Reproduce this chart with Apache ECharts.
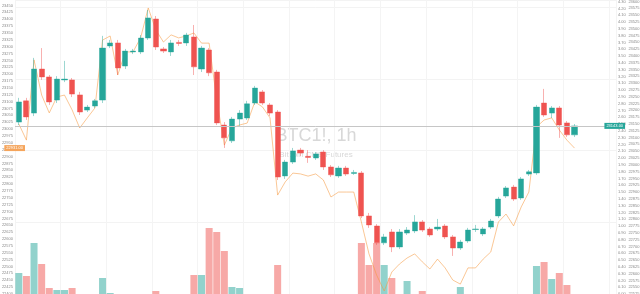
<!DOCTYPE html>
<html><head><meta charset="utf-8">
<script src="https://cdn.jsdelivr.net/npm/echarts@6/dist/echarts.min.js"></script>
<style>html,body{margin:0;padding:0;background:#fff}#c{width:640px;height:294px}</style>
</head><body><div id="c"></div>
<script>
const categories = ['06 00','06 01','06 02','06 03','06 04','06 05','06 06','06 07','06 08','06 09','06 10','06 11','06 12','06 13','06 14','06 15','06 16','06 17','06 18','06 19','06 20','06 21','06 22','06 23',
'07 00','07 01','07 02','07 03','07 04','07 05','07 06','07 07','07 08','07 09','07 10','07 11','07 12','07 13','07 14','07 15','07 16','07 17','07 18','07 19','07 20','07 21','07 22','07 23',
'08 00','08 01','08 02','08 03','08 04','08 05','08 06','08 07','08 08','08 09','08 10','08 11','08 12','08 13','08 14','08 15','08 16','08 17','08 18','08 19','08 20','08 21','08 22','08 23',
'09 00','09 01','09 02','09 03','09 04','09 05','09 06'];

const opens = [23157,23235,23190,23352,23323,23238,23312,23312,23257,23201,
23216,23238,23437,23448,23363,23415,23415,23466,23536,23426,
23415,23450,23448,23470,23352,23422,23341,23146,23088,23168,
23172,23227,23268,23220,23194,22959,23010,23054,23031,23025,
23047,22992,22959,22988,22968,22970,22812,22775,22713,22753,
22698,22749,22757,22790,22764,22764,22775,22735,22694,22720,
22762,22746,22771,22812,22885,22918,22878,22966,22970,23227,
23190,23209,23154,23110];
const closes = [23231,23176,23352,23323,23231,23315,23315,23260,23194,23212,
23235,23429,23448,23356,23418,23418,23466,23540,23433,23418,
23448,23446,23477,23360,23429,23338,23154,23099,23168,23190,
23224,23282,23227,23190,22955,23010,23051,23043,23027,23040,
22992,22963,22988,22966,22972,22812,22779,22713,22735,22698,
22753,22760,22790,22760,22742,22771,22735,22694,22716,22760,
22764,22764,22793,22874,22915,22874,22948,22974,23212,23183,
23209,23146,23110,23143];
const lows = [23146,23165,23179,23312,23220,23227,23304,23249,23183,23194,
23209,23227,23429,23330,23352,23407,23407,23459,23422,23411,
23400,23437,23437,23330,23341,23326,23146,23062,23080,23143,
23165,23220,23220,23179,22944,22948,23003,23032,23007,23018,
22981,22955,22952,22959,22963,22804,22768,22705,22705,22679,
22690,22742,22749,22753,22735,22757,22727,22665,22687,22713,
22753,22738,22764,22804,22878,22867,22871,22959,22963,23176,
23172,23099,23102,23102];
const highs = [23246,23246,23393,23429,23330,23326,23382,23319,23268,23220,
23242,23474,23459,23459,23426,23426,23477,23569,23547,23433,
23459,23459,23485,23514,23437,23429,23349,23157,23176,23201,
23235,23290,23275,23227,23201,23018,23062,23062,23054,23047,
23054,22999,22996,22996,22981,22977,22823,22782,22746,22764,
22764,22771,22815,22797,22771,22801,22782,22742,22724,22768,
22779,22771,22801,22882,22922,22926,22955,22981,23220,23279,
23216,23216,23161,23150];
const spot = [23019,22960,23252,23124,23059,23117,23124,23070,23004,23041,
23077,23324,23339,23197,23281,23281,23332,23441,23361,23317,
23343,23332,23339,23350,23313,23313,23106,22942,23004,23015,
23022,23099,23081,23041,22760,22808,22840,22837,22829,22837,
22815,22753,22771,22771,22771,22662,22546,22469,22411,22480,
22509,22531,22546,22517,22491,22527,22495,22451,22436,22495,
22495,22527,22553,22662,22691,22648,22717,22771,23008,23033,
23041,22997,22960,22931];
const volumes = [155,140,305,200,80,70,70,80,40,35,
30,130,55,30,30,25,40,45,65,40,
35,30,45,145,145,380,360,265,85,80,
40,45,35,40,195,45,40,30,25,30,
45,35,30,25,30,305,195,305,195,130,
45,115,40,65,35,30,45,40,85,45,
30,35,40,45,40,35,45,40,190,210,
125,155,95,40];
const symbolText = 'BTC1!, 1h';
const descText = 'Bitcoin CME Futures';

const UP = '#26a69a', DOWN = '#ef5350';
const candleData = opens.map((o, i) => [o, closes[i], lows[i], highs[i]]);
const volData = volumes.map((v, i) => ({
  value: v,
  itemStyle: { color: closes[i] >= opens[i] ? 'rgba(38,166,154,0.5)' : 'rgba(239,83,80,0.5)' }
}));
const lastClose = closes[closes.length - 1];
const lastSpot = spot[spot.length - 1];
const FONT = 'Arial, "Liberation Sans", sans-serif';
const lbl = { fontSize: 4, color: '#8a8a8a', fontFamily: FONT };

const chart = echarts.init(document.getElementById('c'), null, { renderer: 'canvas' });
chart.setOption({
  animation: false,
  backgroundColor: '#ffffff',
  graphic: {
    elements: [
      { type: 'text', x: 316, y: 136, z: 0, silent: true,
        style: { text: symbolText, font: '18px ' + FONT, fill: '#d8d8d8', align: 'center', verticalAlign: 'middle', textAlign: 'center', textVerticalAlign: 'middle' } },
      { type: 'text', x: 316, y: 155, z: 0, silent: true,
        style: { text: descText, font: '8px ' + FONT, fill: '#d8d8d8', align: 'center', verticalAlign: 'middle', textAlign: 'center', textVerticalAlign: 'middle' } }
    ]
  },
  grid: { left: 15, right: 23.6, top: 0, bottom: 0, outerBoundsMode: 'none', containLabel: false },
  xAxis: {
    type: 'category', data: categories, boundaryGap: true,
    axisLine: { show: false }, axisTick: { show: false }, axisLabel: { show: false },
    splitLine: { show: true, interval: 5, lineStyle: { color: '#f4f4f4', width: 1 } }
  },
  yAxis: [
    { type: 'value', position: 'right', min: 22525, max: 23605.8, interval: 25,
      axisLine: { show: false }, axisTick: { show: false }, splitLine: { show: false },
      axisLabel: Object.assign({ margin: 12, showMaxLabel: false, formatter: v => String(Math.round(v)) }, lbl) },
    { type: 'value', position: 'left', min: 22400, max: 23469.9, interval: 25,
      axisLine: { show: false }, axisTick: { show: false }, splitLine: { show: false },
      axisLabel: Object.assign({ margin: 2, showMaxLabel: false, formatter: v => String(Math.round(v)) }, lbl) },
    { type: 'value', min: 50, max: 1520, show: false },
    { type: 'value', position: 'right', min: 0, max: 4.3235, interval: 0.1,
      axisLine: { show: false }, axisTick: { show: false }, splitLine: { show: false },
      axisLabel: Object.assign({ margin: 1.5, showMaxLabel: false, formatter: v => v.toFixed(2) }, lbl) },
    { type: 'value', position: 'right', min: 0, max: 294, interval: 71.75,
      axisLine: { show: false }, axisTick: { show: false }, axisLabel: { show: false },
      splitLine: { show: true, lineStyle: { color: '#f3f3f3', width: 1 } } }
  ],
  series: [
    { type: 'bar', name: 'Volume', data: volData, yAxisIndex: 2, barWidth: '92%', z: 1, silent: true },
    { type: 'line', name: 'Spot', data: spot, yAxisIndex: 1, showSymbol: false, z: 2, silent: true,
      lineStyle: { color: 'rgba(245,150,60,0.6)', width: 0.9 },
      markLine: { silent: true, symbol: ['none', 'none'], data: [{ yAxis: lastSpot }],
        lineStyle: { color: 'rgba(255,255,255,0)', width: 0 },
        label: { show: true, opacity: 1, position: 'start', distance: -10, formatter: () => lastSpot.toFixed(2),
          backgroundColor: '#f5a55c', color: '#fff', fontSize: 4, fontFamily: FONT, padding: [1, 2] } } },
    { type: 'candlestick', name: 'BTC1!', data: candleData, yAxisIndex: 0, barWidth: '74%', z: 3, silent: true,
      itemStyle: { color: UP, color0: DOWN, borderColor: 'rgba(38,166,154,0.45)', borderColor0: 'rgba(239,83,80,0.45)', borderWidth: 1 },
      markLine: { silent: true, symbol: ['none', 'none'], data: [{ yAxis: lastClose }],
        lineStyle: { color: '#c6c6c6', width: 1, type: 'solid' },
        label: { show: true, position: 'end', distance: -12, formatter: () => lastClose.toFixed(2),
          backgroundColor: UP, color: '#fff', fontSize: 4, fontFamily: FONT, padding: [1, 2] } } }
  ]
});
</script>
</body></html>
